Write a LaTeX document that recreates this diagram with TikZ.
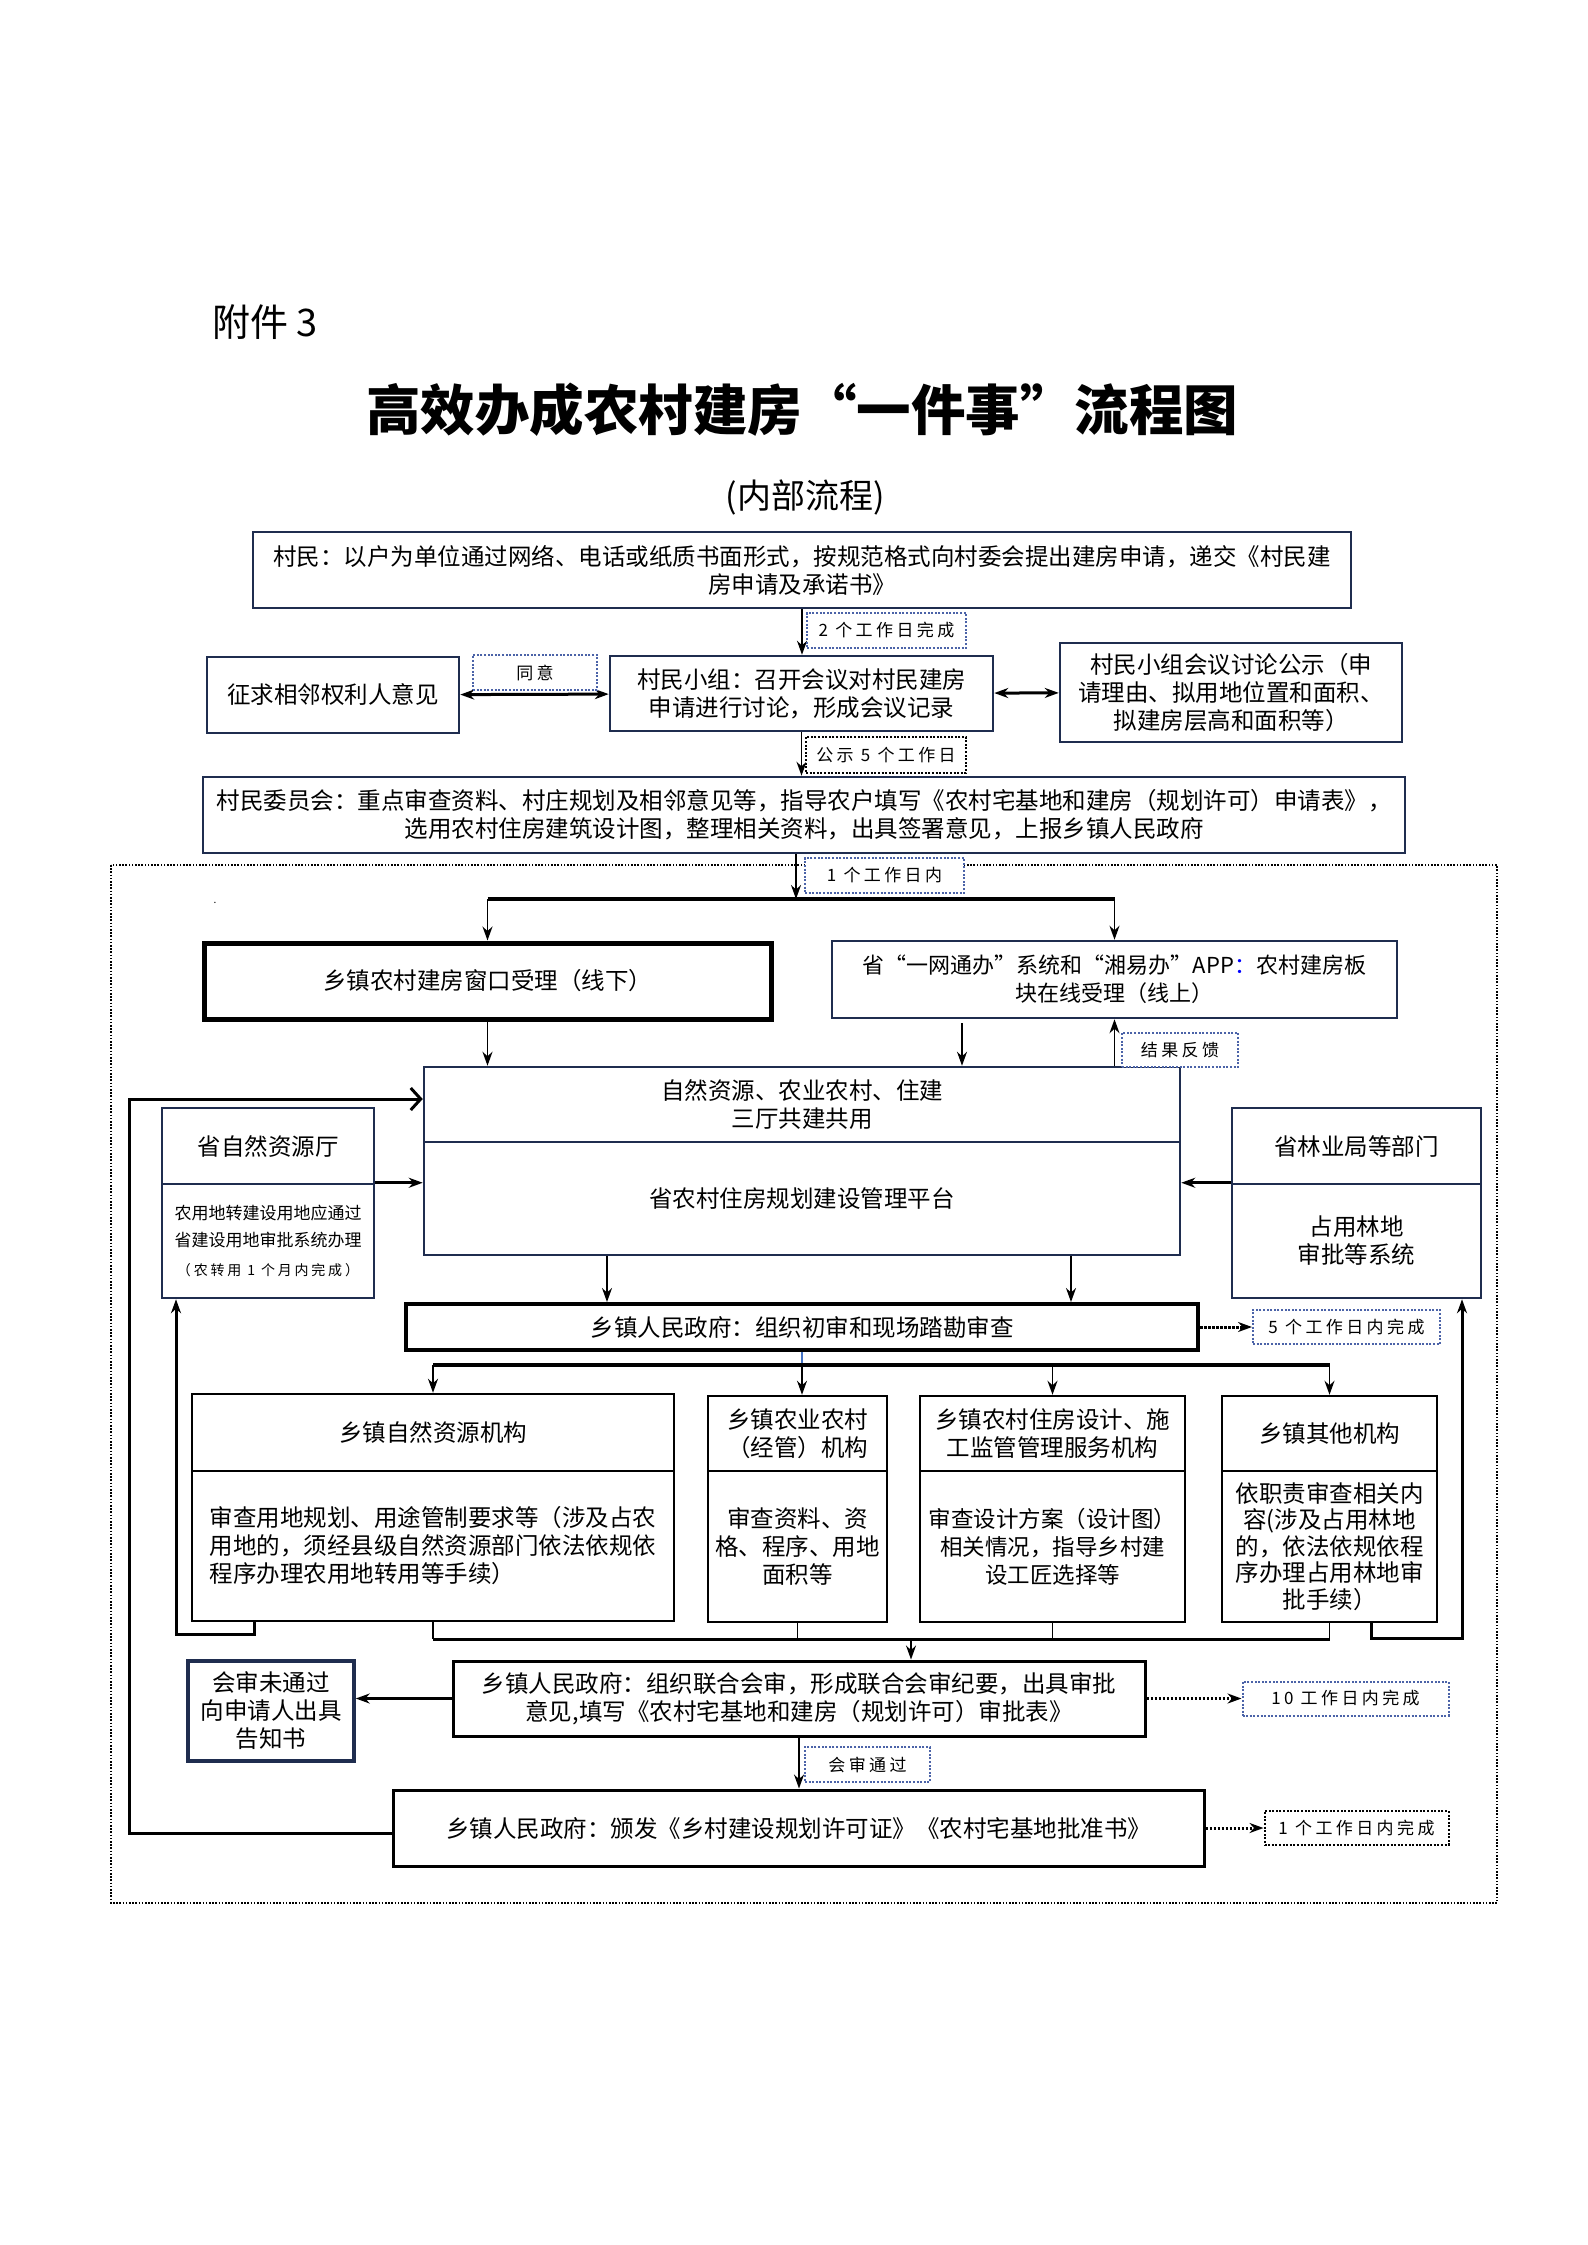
\documentclass[tikz,border=0pt]{standalone}
\usepackage{fontspec}
\setmainfont{Noto Sans CJK SC}
\newfontfamily\tagfont[LetterSpace=20]{Noto Sans CJK SC}
\usepackage{tikz}
\usetikzlibrary{positioning}
\usetikzlibrary{arrows.meta}
\definecolor{navy}{RGB}{31,45,79}
\definecolor{tagblue}{RGB}{75,99,168}
\definecolor{linkblue}{RGB}{68,114,196}

\begin{document}
\begin{tikzpicture}[
        x = 1pt, y = -1pt, % pixel grid, y downwards
        > = {Stealth[length=14pt,width=10pt]}, % arrow head style
        line width = 1.5pt,
        box/.style = {draw = navy, line width = 2.5pt, fill = white, align = center,
            inner sep = 2pt, font = \fontsize{23.5}{28}\selectfont},
        heavy/.style = {box, draw = black, line width = 4pt},
        plain/.style = {box, draw = black},
        tag/.style = {draw = tagblue, dash pattern = on 2pt off 1.6pt, line width = 2pt,
            fill = white, inner sep = 0pt, font = \tagfont\fontsize{17}{20}\selectfont},
        blacktag/.style = {tag, draw = black},
        dotarrow/.style = {->, line width = 3pt, dash pattern = on 2.5pt off 1.5pt},
        bar/.style = {line width = 4pt},
        loop/.style = {line width = 3pt}
    ]

    \fill[white] (0,0) rectangle (1587,2245);
    \useasboundingbox (0,0) rectangle (1587,2245);

    % heading
    \node[anchor = west] (FJ) at (208,322) {\fontsize{38}{44}\selectfont 附件 3};
    \node (TT) at (802,410) {\fontsize{54.5}{60}\selectfont\bfseries 高效办成农村建房“一件事”流程图};
    \node (NB) at (805,497) {\fontsize{34}{38}\selectfont (内部流程)};

    % township frame
    \draw[line width = 1.2pt, dash pattern = on 1.6pt off 1.6pt] (111,865) rectangle (1497,1903);
    \node[inner sep = 0pt, font = \fontsize{10}{10}\selectfont] (DOT) at (215,903) {.};

    % village level
    \node[box, minimum width = 1098, minimum height = 76] (CM) at (802,570)
        {村民：以户为单位通过网络、电话或纸质书面形式，按规范格式向村委会提出建房申请，递交《村民建\\房申请及承诺书》};
    \node[box, minimum width = 383, minimum height = 75] (XZ) at (801.5,693.5)
        {村民小组：召开会议对村民建房\\申请进行讨论，形成会议记录};
    \node[box, minimum width = 252, minimum height = 76] (QX) at (333,695) {征求相邻权利人意见};
    \node[box, minimum width = 342, minimum height = 99] (GS) at (1231,692.5)
        {村民小组会议讨论公示（申\\请理由、拟用地位置和面积、\\拟建房层高和面积等）};
    \node[box, minimum width = 1202, minimum height = 76] (WY) at (804,815)
        {村民委员会：重点审查资料、村庄规划及相邻意见等，指导农户填写《农村宅基地和建房（规划许可）申请表》，\\选用农村住房建筑设计图，整理相关资料，出具签署意见，上报乡镇人民政府};

    \draw[->] (CM.south) -- (CM.south |- XZ.north);
    \draw[<->, line width = 3pt] (QX) -- (XZ);
    \draw[<->, line width = 3pt] (XZ) -- (GS);
    \draw[->] (XZ.south) -- (XZ.south |- WY.north);

    \node[tag, minimum width = 159, minimum height = 35] (T2) at (886.5,630.5) {2 个工作日完成};
    \node[tag, minimum width = 124, minimum height = 35] (TY) at (535,672.5) {同意};
    \node[blacktag, minimum width = 160, minimum height = 36] (T5) at (886,755) {公示 5 个工作日};

    % acceptance
    \node[heavy, line width = 5pt, minimum width = 567, minimum height = 76] (CK) at (487.5,981)
        {乡镇农村建房窗口受理（线下）};
    \node[box, minimum width = 565, minimum height = 77, font = \fontsize{22}{28}\selectfont] (WS) at (1114.5,979.5)
        {省“一网通办”系统和“湘易办”APP\textcolor{blue}{：}农村建房板\\块在线受理（线上）};

    \coordinate (J1) at (796,899);
    \draw[->] (J1 |- WY.south) -- (J1);
    \draw[bar] (CK.north |- J1) -- (WS.north |- J1);
    \draw[->] (CK.north |- J1) -- (CK.north);
    \draw[->] (WS.north |- J1) -- (WS.north);
    \node[tag, minimum width = 159, minimum height = 35] (T1) at (884.5,875.5) {1 个工作日内};

    % provincial platform
    \node[box, minimum width = 756, minimum height = 75] (PT1) at (802,1104.5)
        {自然资源、农业农村、住建\\三厅共建共用};
    \node[box, minimum width = 756, minimum height = 113] (PT2) at (802,1198.5)
        {省农村住房规划建设管理平台};

    \node[box, minimum width = 212, minimum height = 76] (ZR1) at (268,1146) {省自然资源厅};
    \node[box, minimum width = 212, minimum height = 114, font = \fontsize{17}{27}\selectfont] (ZR2) at (268,1241)
        {农用地转建设用地应通过\\省建设用地审批系统办理\\[2pt]{\tagfont\fontsize{14}{16}\selectfont（农转用 1 个月内完成）}};
    \node[box, minimum width = 249, minimum height = 76] (LY1) at (1356.5,1146) {省林业局等部门};
    \node[box, minimum width = 249, minimum height = 114] (LY2) at (1356.5,1241) {占用林地\\审批等系统};

    \draw[->] (CK.south) -- (CK.south |- PT1.north);
    \draw[->] ([xshift = -152.5]WS.south) ++(0,4) -- ([xshift = -152.5]WS.south |- PT1.north);
    \draw[->] (WS.south |- PT1.north) -- (WS.south);
    \node[tag, minimum width = 116, minimum height = 34] (FK) at (1180,1050) {结果反馈};
    \draw[->, line width = 3pt] (ZR2.north east) -- (ZR2.north east -| PT2.west);
    \draw[->, line width = 3pt] (LY2.north west) -- (LY2.north west -| PT2.east);

    % township review
    \node[heavy, minimum width = 792, minimum height = 46] (CS) at (802,1327)
        {乡镇人民政府：组织初审和现场踏勘审查};
    \node[tag, minimum width = 187, minimum height = 34] (T5B) [right = 52pt of CS] {5 个工作日内完成};
    \draw[dotarrow] (CS) -- (T5B);

    \draw[->] ([xshift = -195]PT2.south) -- ([xshift = -195]PT2.south |- CS.north);
    \draw[->] ([xshift = 269]PT2.south) -- ([xshift = 269]PT2.south |- CS.north);

    \node[plain, minimum width = 482, minimum height = 77] (A1) at (433,1432.5) {乡镇自然资源机构};
    \node[plain, minimum width = 482, minimum height = 150, align = left] (A2) at (433,1546)
        {审查用地规划、用途管制要求等（涉及占农\\用地的，须经县级自然资源部门依法依规依\\程序办理农用地转用等手续）};
    \node[plain, minimum width = 179, minimum height = 75] (B1) at (797.5,1433.5) {乡镇农业农村\\（经管）机构};
    \node[plain, minimum width = 179, minimum height = 151] (B2) at (797.5,1546.5) {审查资料、资\\格、程序、用地\\面积等};
    \node[plain, minimum width = 265, minimum height = 75] (C1) at (1052.5,1433.5)
        {乡镇农村住房设计、施\\工监管管理服务机构};
    \node[plain, minimum width = 265, minimum height = 151, font = \fontsize{22.5}{28}\selectfont] (C2) at (1052.5,1546.5)
        {审查设计方案（设计图）\\相关情况，指导乡村建\\设工匠选择等};
    \node[plain, minimum width = 215, minimum height = 75] (D1) at (1329.5,1433.5) {乡镇其他机构};
    \node[plain, minimum width = 215, minimum height = 151, font = \fontsize{23.5}{26.5}\selectfont] (D2) at (1329.5,1546.5)
        {依职责审查相关内\\容(涉及占用林地\\的，依法依规依程\\序办理占用林地审\\批手续）};

    \coordinate (J2) at (802,1365);
    \draw[linkblue] (CS.south) -- (J2);
    \draw[bar] (A1.north |- J2) -- (D1.north |- J2);
    \foreach \n in {A1, C1, D1}
        \draw[->] (\n.north |- J2) -- (\n.north);
    \draw[->] (J2) -- (J2 |- B1.north);

    % joint review
    \node[plain, line width = 3pt, minimum width = 692, minimum height = 75] (LH) at (799,1698.5)
        {乡镇人民政府：组织联合会审，形成联合会审纪要，出具审批\\意见,填写《农村宅基地和建房（规划许可）审批表》};
    \node[box, line width = 3.5pt, minimum width = 166, minimum height = 100] (WTG) at (271,1711)
        {会审未通过\\向申请人出具\\告知书};
    \node[tag, minimum width = 206, minimum height = 34] (T10) [right = 95pt of LH] {10 工作日内完成};

    \coordinate (J3) at (911,1639);
    \draw[line width = 3pt] (A2.south |- J3) -- (D2.south |- J3);
    \foreach \n in {A2, B2, C2, D2}
        \draw (\n.south) -- (\n.south |- J3);
    \draw[->] (J3) -- (J3 |- LH.north);

    \draw[->, loop] ([xshift = -179]A2.south) -- ++(0,12) -| ([xshift = -92]ZR2.south);
    \draw[->, loop] ([xshift = 41.5]D2.south) -- ++(0,15) -| ([xshift = 105.5]LY2.south);

    \draw[->, line width = 3pt] (LH.west) -- (LH.west -| WTG.east);
    \draw[dotarrow] (LH) -- (T10);

    % permit
    \node[plain, line width = 3pt, minimum width = 811, minimum height = 76] (BF) at (798.5,1828)
        {乡镇人民政府：颁发《乡村建设规划许可证》《农村宅基地批准书》};
    \node[blacktag, minimum width = 184, minimum height = 34] (T1B) [right = 58pt of BF] {1 个工作日内完成};
    \node[tag, minimum width = 125, minimum height = 35] (TG) at (867.5,1764.5) {会审通过};

    \draw[->] (LH.south) -- (LH.south |- BF.north);
    \draw[dotarrow] (BF) -- (T1B);
    \draw[loop, -{Straight Barb[length=10pt,width=22pt]}] ([yshift = -5]BF.west) -| (129,1099) -- (129,1099 -| PT1.west);

\end{tikzpicture}
\end{document}
